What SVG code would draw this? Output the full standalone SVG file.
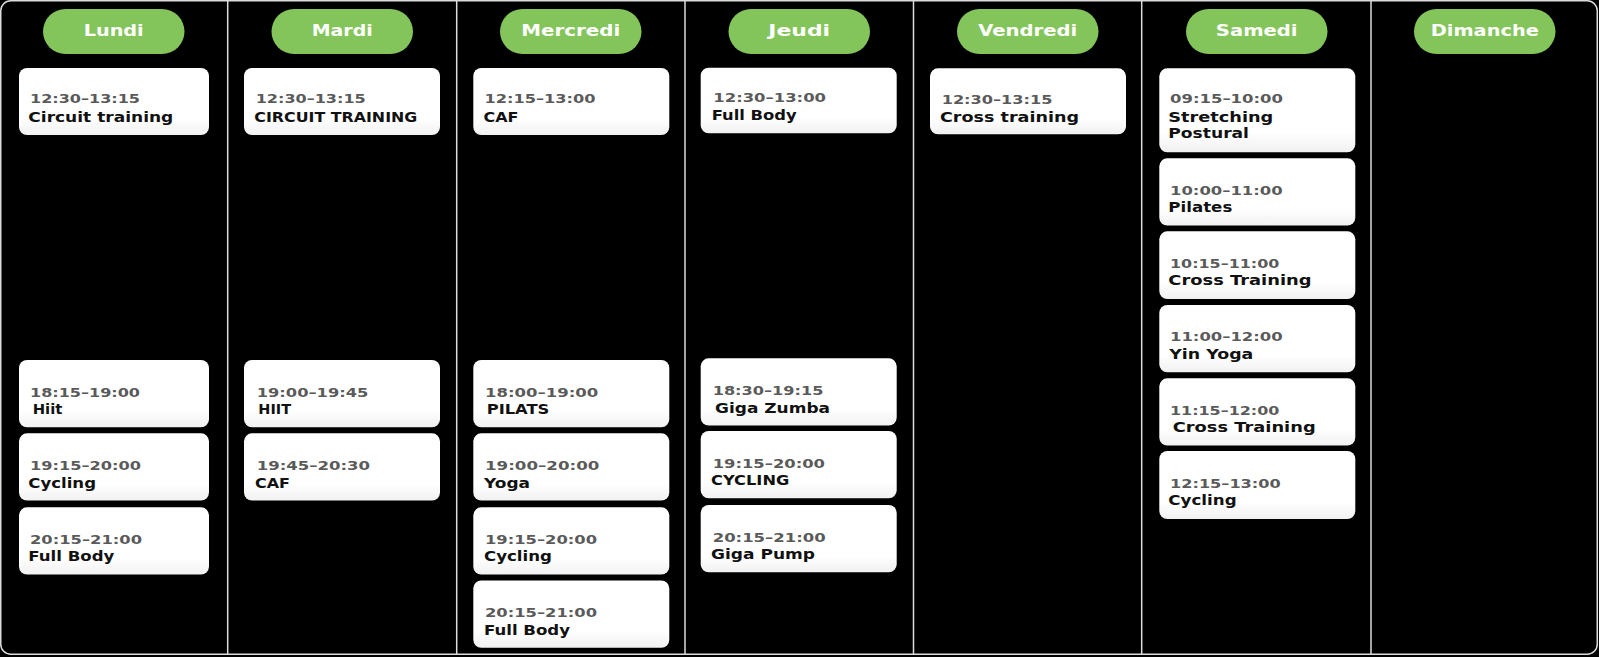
<svg xmlns="http://www.w3.org/2000/svg" width="1599" height="657" viewBox="0 0 1599 657">
<defs>
<linearGradient id="cg" x1="0" y1="0" x2="0" y2="1">
<stop offset="0" stop-color="#ffffff"/>
<stop offset="0.75" stop-color="#ffffff"/>
<stop offset="1" stop-color="#f1f1f1"/>
</linearGradient>
</defs>
<style>
.bg{fill:#000}
.frame{fill:#000;stroke:#dcdcdc;stroke-width:1.5}
.div{stroke:#dcdcdc;stroke-width:1.5}
.pill{fill:#83c55a}
.day{font-family:"DejaVu Sans",sans-serif;font-weight:bold;font-size:15px;fill:#fff;text-anchor:middle}
.card{fill:url(#cg)}
.t{font-family:"DejaVu Sans",sans-serif;font-weight:bold;font-size:13px;fill:#5a5a5a}
.n{font-family:"DejaVu Sans",sans-serif;font-weight:bold;font-size:14.5px;fill:#111}
</style>
<rect class="bg" x="0" y="0" width="1599" height="657"/>
<rect class="frame" x="0.75" y="0.75" width="1596.5" height="653.5" rx="10"/>
<g id="dividers">
<line class="div" x1="227.7" y1="1" x2="227.7" y2="654"/>
<line class="div" x1="456.7" y1="1" x2="456.7" y2="654"/>
<line class="div" x1="685" y1="1" x2="685" y2="654"/>
<line class="div" x1="913.5" y1="1" x2="913.5" y2="654"/>
<line class="div" x1="1141.7" y1="1" x2="1141.7" y2="654"/>
<line class="div" x1="1371" y1="1" x2="1371" y2="654"/>
</g>
<g id="lundi">
<rect class="pill" x="43" y="9" width="141.5" height="45" rx="22.5"/>
<text class="day" x="113.7" y="35.5" textLength="60" lengthAdjust="spacingAndGlyphs">Lundi</text>
<rect class="card" x="19" y="68" width="190" height="67" rx="8"/>
<text class="t" x="30" y="103" textLength="110" lengthAdjust="spacingAndGlyphs">12:30–13:15</text>
<text class="n" x="28.3" y="122" textLength="145" lengthAdjust="spacingAndGlyphs">Circuit training</text>
<rect class="card" x="19" y="360" width="190" height="67.3" rx="8"/>
<text class="t" x="30" y="396.7" textLength="110" lengthAdjust="spacingAndGlyphs">18:15–19:00</text>
<text class="n" x="32.7" y="414.3" textLength="29.7" lengthAdjust="spacingAndGlyphs">Hiit</text>
<rect class="card" x="19" y="433.3" width="190" height="67.3" rx="8"/>
<text class="t" x="30" y="470" textLength="111" lengthAdjust="spacingAndGlyphs">19:15–20:00</text>
<text class="n" x="28.3" y="487.7" textLength="67.7" lengthAdjust="spacingAndGlyphs">Cycling</text>
<rect class="card" x="19" y="507.3" width="190" height="67.3" rx="8"/>
<text class="t" x="30" y="543.7" textLength="112" lengthAdjust="spacingAndGlyphs">20:15–21:00</text>
<text class="n" x="28.3" y="561.3" textLength="86" lengthAdjust="spacingAndGlyphs">Full Body</text>
</g>
<g id="mardi">
<rect class="pill" x="271.5" y="9" width="141.5" height="45" rx="22.5"/>
<text class="day" x="342.2" y="35.5" textLength="61" lengthAdjust="spacingAndGlyphs">Mardi</text>
<rect class="card" x="244" y="68" width="196" height="67" rx="8"/>
<text class="t" x="255.7" y="103" textLength="110" lengthAdjust="spacingAndGlyphs">12:30–13:15</text>
<text class="n" x="254.3" y="122" textLength="163" lengthAdjust="spacingAndGlyphs">CIRCUIT TRAINING</text>
<rect class="card" x="244" y="360" width="196" height="67.3" rx="8"/>
<text class="t" x="256.7" y="396.7" textLength="111.7" lengthAdjust="spacingAndGlyphs">19:00–19:45</text>
<text class="n" x="258.3" y="414.3" textLength="32.7" lengthAdjust="spacingAndGlyphs">HIIT</text>
<rect class="card" x="244" y="433.3" width="196" height="67.3" rx="8"/>
<text class="t" x="256.7" y="470" textLength="113.3" lengthAdjust="spacingAndGlyphs">19:45–20:30</text>
<text class="n" x="255" y="487.7" textLength="35" lengthAdjust="spacingAndGlyphs">CAF</text>
</g>
<g id="mercredi">
<rect class="pill" x="500" y="9" width="141.5" height="45" rx="22.5"/>
<text class="day" x="570.8" y="35.5" textLength="99" lengthAdjust="spacingAndGlyphs">Mercredi</text>
<rect class="card" x="473.3" y="68" width="196" height="67" rx="8"/>
<text class="t" x="484.5" y="103.3" textLength="111" lengthAdjust="spacingAndGlyphs">12:15–13:00</text>
<text class="n" x="483.5" y="121.7" textLength="35" lengthAdjust="spacingAndGlyphs">CAF</text>
<rect class="card" x="473.3" y="360" width="196" height="67.3" rx="8"/>
<text class="t" x="485" y="396.7" textLength="113.3" lengthAdjust="spacingAndGlyphs">18:00–19:00</text>
<text class="n" x="486.7" y="414.3" textLength="62.7" lengthAdjust="spacingAndGlyphs">PILATS</text>
<rect class="card" x="473.3" y="433.3" width="196" height="67.3" rx="8"/>
<text class="t" x="485" y="470" textLength="114.3" lengthAdjust="spacingAndGlyphs">19:00–20:00</text>
<text class="n" x="484" y="487.7" textLength="46" lengthAdjust="spacingAndGlyphs">Yoga</text>
<rect class="card" x="473.3" y="507.3" width="196" height="67.3" rx="8"/>
<text class="t" x="485" y="543.7" textLength="112" lengthAdjust="spacingAndGlyphs">19:15–20:00</text>
<text class="n" x="484" y="561.3" textLength="68" lengthAdjust="spacingAndGlyphs">Cycling</text>
<rect class="card" x="473.3" y="580.5" width="196" height="67.3" rx="8"/>
<text class="t" x="485" y="617" textLength="112" lengthAdjust="spacingAndGlyphs">20:15–21:00</text>
<text class="n" x="484" y="634.5" textLength="86" lengthAdjust="spacingAndGlyphs">Full Body</text>
</g>
<g id="jeudi">
<rect class="pill" x="728.5" y="9" width="141.5" height="45" rx="22.5"/>
<text class="day" x="799.2" y="35.5" textLength="61.7" lengthAdjust="spacingAndGlyphs">Jeudi</text>
<rect class="card" x="700.7" y="67.7" width="196" height="65.6" rx="8"/>
<text class="t" x="713.3" y="101.7" textLength="112.7" lengthAdjust="spacingAndGlyphs">12:30–13:00</text>
<text class="n" x="711.7" y="120.3" textLength="85" lengthAdjust="spacingAndGlyphs">Full Body</text>
<rect class="card" x="700.7" y="358.3" width="196" height="67.3" rx="8"/>
<text class="t" x="712.7" y="395" textLength="110.7" lengthAdjust="spacingAndGlyphs">18:30–19:15</text>
<text class="n" x="715" y="412.5" textLength="115" lengthAdjust="spacingAndGlyphs">Giga Zumba</text>
<rect class="card" x="700.7" y="431" width="196" height="67.3" rx="8"/>
<text class="t" x="712.7" y="467.7" textLength="112.3" lengthAdjust="spacingAndGlyphs">19:15–20:00</text>
<text class="n" x="711" y="485.3" textLength="78.3" lengthAdjust="spacingAndGlyphs">CYCLING</text>
<rect class="card" x="700.7" y="505" width="196" height="67.3" rx="8"/>
<text class="t" x="712.7" y="541.7" textLength="113" lengthAdjust="spacingAndGlyphs">20:15–21:00</text>
<text class="n" x="711" y="559.3" textLength="104" lengthAdjust="spacingAndGlyphs">Giga Pump</text>
</g>
<g id="vendredi">
<rect class="pill" x="957" y="9" width="141.5" height="45" rx="22.5"/>
<text class="day" x="1027.7" y="35.5" textLength="99" lengthAdjust="spacingAndGlyphs">Vendredi</text>
<rect class="card" x="930" y="68.3" width="196" height="66" rx="8"/>
<text class="t" x="941.7" y="104" textLength="110.7" lengthAdjust="spacingAndGlyphs">12:30–13:15</text>
<text class="n" x="940" y="121.7" textLength="139" lengthAdjust="spacingAndGlyphs">Cross training</text>
</g>
<g id="samedi">
<rect class="pill" x="1186" y="9" width="141.5" height="45" rx="22.5"/>
<text class="day" x="1256.7" y="35.5" textLength="81.7" lengthAdjust="spacingAndGlyphs">Samedi</text>
<rect class="card" x="1159.3" y="68.3" width="196" height="84" rx="8"/>
<text class="t" x="1170" y="102.7" textLength="113" lengthAdjust="spacingAndGlyphs">09:15–10:00</text>
<text class="n" x="1168.3" y="121.5" textLength="105" lengthAdjust="spacingAndGlyphs">Stretching</text>
<text class="n" x="1168.3" y="138.3" textLength="80.7" lengthAdjust="spacingAndGlyphs">Postural</text>
<rect class="card" x="1159.3" y="158.3" width="196" height="67.3" rx="8"/>
<text class="t" x="1170" y="195" textLength="112.7" lengthAdjust="spacingAndGlyphs">10:00–11:00</text>
<text class="n" x="1168.3" y="211.7" textLength="64" lengthAdjust="spacingAndGlyphs">Pilates</text>
<rect class="card" x="1159.3" y="231.3" width="196" height="67.7" rx="8"/>
<text class="t" x="1170" y="268" textLength="109.3" lengthAdjust="spacingAndGlyphs">10:15–11:00</text>
<text class="n" x="1168.3" y="285" textLength="143.3" lengthAdjust="spacingAndGlyphs">Cross Training</text>
<rect class="card" x="1159.3" y="305" width="196" height="67.3" rx="8"/>
<text class="t" x="1170" y="341.3" textLength="112.7" lengthAdjust="spacingAndGlyphs">11:00–12:00</text>
<text class="n" x="1169.3" y="358.7" textLength="84" lengthAdjust="spacingAndGlyphs">Yin Yoga</text>
<rect class="card" x="1159.3" y="378.3" width="196" height="67.3" rx="8"/>
<text class="t" x="1170" y="414.7" textLength="109.3" lengthAdjust="spacingAndGlyphs">11:15–12:00</text>
<text class="n" x="1172.7" y="432.3" textLength="143" lengthAdjust="spacingAndGlyphs">Cross Training</text>
<rect class="card" x="1159.3" y="451" width="196" height="68" rx="8"/>
<text class="t" x="1170" y="487.7" textLength="110.7" lengthAdjust="spacingAndGlyphs">12:15–13:00</text>
<text class="n" x="1168.3" y="505" textLength="68.3" lengthAdjust="spacingAndGlyphs">Cycling</text>
</g>
<g id="dimanche">
<rect class="pill" x="1414" y="9" width="141.5" height="45" rx="22.5"/>
<text class="day" x="1484.8" y="35.5" textLength="108" lengthAdjust="spacingAndGlyphs">Dimanche</text>
</g>
</svg>
